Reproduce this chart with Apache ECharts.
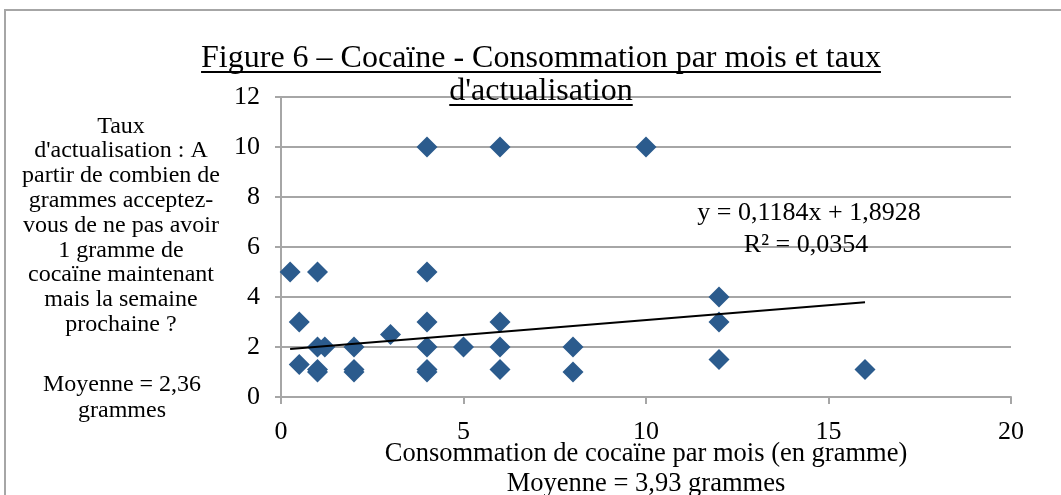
<!DOCTYPE html>
<html>
<head>
<meta charset="utf-8">
<script src="https://cdn.jsdelivr.net/npm/echarts@6/dist/echarts.min.js"></script>
<style>
  html, body { margin: 0; padding: 0; background: #fff; }
  #chart { width: 1061px; height: 495px; }
</style>
</head>
<body>
<div id="chart"></div>
<script>
// grams of cocaine per month (x) and discount threshold (y)
const consumption = [0.25, 1, 4, 4, 6, 10, 0.5, 0.5, 1, 1.2, 1, 1, 2, 2, 2, 3, 4, 4, 4, 4, 5, 6, 6, 6, 8, 8, 12, 12, 12, 16];
const rate        = [5,    5, 5, 10, 10, 10, 3, 1.3, 2, 2,   1, 1.1, 2, 1, 1.1, 2.5, 3, 2, 1, 1.1, 2, 3, 2, 1.1, 2, 1, 4, 3, 1.5, 1.1];

// trend line ends, as drawn
const trendX = [0.25, 16];
const trendY = [1.92, 3.79];

const xTicks = [0, 5, 10, 15, 20];
const yTicks = [0, 2, 4, 6, 8, 10, 12];

const titleLines = ['Figure 6 – Cocaïne - Consommation par mois et taux', "d'actualisation"];
const yNameLines = ['Taux', "d'actualisation : A", 'partir de combien de', 'grammes acceptez-',
  'vous de ne pas avoir', '1 gramme de', 'cocaïne maintenant', 'mais la semaine', 'prochaine ?'];
const yMeanLines = ['Moyenne = 2,36', 'grammes'];
const xNameLines = ['Consommation de cocaïne par mois (en gramme)', 'Moyenne = 3,93 grammes'];
const equation = ['y = 0,1184x + 1,8928', 'R² = 0,0354'];

const FONT = '"Liberation Serif", "Times New Roman", serif';
const gray = '#a6a6a6';

const chart = echarts.init(document.getElementById('chart'));

// width of a title line, for the underline
const ctx = document.createElement('canvas').getContext('2d');
function textWidth(str, size) {
  ctx.font = size + 'px ' + FONT;
  return ctx.measureText(str).width;
}

const titleSize = 32;
const titleCx = 541;
const titleBase = [68, 101];
const graphics = [
  {
    type: 'rect', z: -1, silent: true,
    shape: { x: 5, y: 10, width: 1100, height: 600 },
    style: { fill: 'none', stroke: gray, lineWidth: 2 }
  }
];
titleLines.forEach((t, i) => {
  const w = textWidth(t, titleSize);
  graphics.push({
    type: 'text', z: 10,
    style: { text: t, x: titleCx, y: titleBase[i] + 7, align: 'center', verticalAlign: 'bottom',
      font: titleSize + 'px ' + FONT, fill: '#000' }
  });
  graphics.push({
    type: 'line', z: 10,
    shape: { x1: titleCx - w / 2, y1: titleBase[i] + 4, x2: titleCx + w / 2, y2: titleBase[i] + 4 },
    style: { stroke: '#000', lineWidth: 2 }
  });
});
graphics.push({
  type: 'text',
  style: { text: yNameLines.join('\n'), x: 121, y: 114, align: 'center', verticalAlign: 'top',
    font: '24px ' + FONT, lineHeight: 24.8, fill: '#000' }
});
graphics.push({
  type: 'text',
  style: { text: yMeanLines.join('\n'), x: 122, y: 372, align: 'center', verticalAlign: 'top',
    font: '24px ' + FONT, lineHeight: 26, fill: '#000' }
});
graphics.push({
  type: 'text',
  style: { text: xNameLines.join('\n'), x: 646, y: 439, align: 'center', verticalAlign: 'top',
    font: '26.5px ' + FONT, lineHeight: 30, fill: '#000' }
});
graphics.push({
  type: 'text', z: 10,
  style: { text: equation[0], x: 809, y: 213, align: 'center', verticalAlign: 'middle',
    font: '26px ' + FONT, fill: '#000' }
});
graphics.push({
  type: 'text', z: 10,
  style: { text: equation[1], x: 806, y: 245, align: 'center', verticalAlign: 'middle',
    font: '26px ' + FONT, fill: '#000' }
});

const option = {
  animation: false,
  backgroundColor: '#fff',
  textStyle: { fontFamily: FONT },
  grid: { left: 281, right: 50, top: 97, bottom: 98, containLabel: false },
  xAxis: {
    type: 'value',
    min: xTicks[0], max: xTicks[xTicks.length - 1], interval: 5,
    axisLine: { show: true, lineStyle: { color: gray, width: 2 } },
    axisTick: { show: true, length: 7, lineStyle: { color: gray, width: 2 } },
    axisLabel: { color: '#000', fontSize: 26, margin: 22, fontFamily: FONT },
    splitLine: { show: false }
  },
  yAxis: {
    type: 'value',
    min: yTicks[0], max: yTicks[yTicks.length - 1], interval: 2,
    axisLine: { show: true, lineStyle: { color: gray, width: 2 } },
    axisTick: { show: true, length: 6, lineStyle: { color: gray, width: 2 } },
    axisLabel: { color: '#000', fontSize: 26, margin: 21, fontFamily: FONT },
    splitLine: { show: true, lineStyle: { color: gray, width: 2 } }
  },
  series: [
    {
      type: 'scatter',
      symbol: 'diamond',
      symbolSize: 21,
      itemStyle: { color: '#2B5B8D', opacity: 1 },
      data: consumption.map((x, i) => [x, rate[i]]),
      z: 3
    },
    {
      type: 'line',
      showSymbol: false,
      symbol: 'none',
      lineStyle: { color: '#000', width: 2 },
      data: trendX.map((x, i) => [x, trendY[i]]),
      z: 4
    }
  ],
  graphic: graphics
};
chart.setOption(option);
</script>
</body>
</html>
